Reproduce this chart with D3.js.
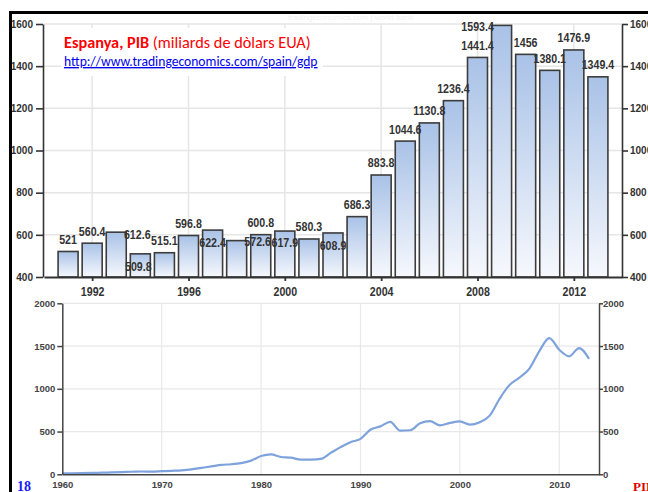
<!DOCTYPE html>
<html>
<head>
<meta charset="utf-8">
<script src="https://cdn.jsdelivr.net/npm/d3@7"></script>
<style>
  html, body { margin: 0; padding: 0; background: #fff; }
  svg { display: block; }
</style>
</head>
<body>
<svg id="chart" width="648" height="492"></svg>
<script>
// ---------------- DATA ----------------
const barYears = [1991,1992,1993,1994,1995,1996,1997,1998,1999,2000,2001,2002,2003,2004,2005,2006,2007,2008,2009,2010,2011,2012,2013];
const barValues = [521,560.4,612.6,509.8,515.1,596.8,622.4,572.6,600.8,617.9,580.3,608.9,686.3,883.8,1044.6,1130.8,1236.4,1441.4,1593.4,1456,1380.1,1476.9,1349.4];
const barLabels = ["521","560.4","612.6","509.8","515.1","596.8","622.4","572.6","600.8","617.9","580.3","608.9","686.3","883.8","1044.6","1130.8","1236.4","1441.4","1593.4","1456","1380.1","1476.9","1349.4"];
const topYTicks = [400,600,800,1000,1200,1400,1600];
const topXTicks = [1992,1996,2000,2004,2008,2012];

const lineYears = [1960,1961,1962,1963,1964,1965,1966,1967,1968,1969,1970,1971,1972,1973,1974,1975,1976,1977,1978,1979,1980,1981,1982,1983,1984,1985,1986,1987,1988,1989,1990,1991,1992,1993,1994,1995,1996,1997,1998,1999,2000,2001,2002,2003,2004,2005,2006,2007,2008,2009,2010,2011,2012,2013];
const lineValues = [11,12.1,13.8,16.1,19.4,21.9,25.5,29.7,32.7,31.8,36.4,41,46.6,57.3,75,92.3,110.5,117.4,131.2,160.1,213.5,232.1,202.6,195.4,170.9,172.4,180.3,250.6,317.8,376,413.7,521,560.4,612.6,509.8,515.1,596.8,622.4,572.6,600.8,617.9,580.3,608.9,686.3,883.8,1044.6,1130.8,1236.4,1441.4,1593.4,1456,1380.1,1476.9,1349.4];
const bottomYTicks = [0,500,1000,1500,2000];
const bottomXTicks = [1960,1970,1980,1990,2000,2010];

const titleBold = "Espanya, PIB";
const titleRest = " (miliards de dòlars EUA)";
const sourceUrl = "http://www.tradingeconomics.com/spain/gdp";
const pageNumber = "18";
const footerRight = "PIB";

// label collision nudges (layout only), [dx, dy] in px per bar
const labelNudge = [[0,0],[0,0],[21,14],[-2,25],[0,0],[0,0],[0,24],[21,13],[0,0],[0,23],[0,0],[0,25],[0,0],[0,0],[0,0],[0,0],[0,0],[0,0],[-24,13.5],[0,0],[0,0],[0,0],[0,0]];

// ---------------- DRAW ----------------
const svg = d3.select("#chart");
const sans = "'Liberation Sans',Arial,sans-serif";
const squeeze = 0.82; // condensed look for the top chart labels

const defs = svg.append("defs");
const grad = defs.append("linearGradient").attr("id","barGrad")
  .attr("x1",0).attr("y1",0).attr("x2",0).attr("y2",1);
grad.append("stop").attr("offset","0%").attr("stop-color","#a9c2e7");
grad.append("stop").attr("offset","100%").attr("stop-color","#f6f8fd");

// ---- top chart ----
const xTop = d3.scaleLinear().domain([1990, 2014]).range([44, 622]);
const yTop = d3.scaleLinear().domain([400, 1600]).range([277, 24]);
const barW = 20;

const gTop = svg.append("g");
gTop.append("g").selectAll("line").data(topYTicks.slice(1)).join("line")
  .attr("x1", xTop.range()[0]).attr("x2", xTop.range()[1])
  .attr("y1", d => yTop(d)).attr("y2", d => yTop(d))
  .attr("stroke", "#e6e6e6").attr("stroke-width", 1.5);
gTop.append("g").selectAll("line").data(topXTicks).join("line")
  .attr("x1", d => xTop(d)).attr("x2", d => xTop(d))
  .attr("y1", yTop.range()[1]).attr("y2", yTop.range()[0])
  .attr("stroke", "#e6e6e6").attr("stroke-width", 1.5);

// faint watermark at top
svg.append("text").attr("x", 288).attr("y", 20).text("tradingeconomics.com  |  world bank")
  .attr("font-family", sans).attr("font-size", 8).attr("fill", "#f0f0f0");

// white box behind title
gTop.append("rect").attr("x", 61).attr("y", 28).attr("width", 262).attr("height", 48).attr("fill", "#fff");

// bars
gTop.append("g").selectAll("rect").data(barValues).join("rect")
  .attr("x", (d,i) => xTop(barYears[i]) - barW/2)
  .attr("y", d => yTop(d))
  .attr("width", barW)
  .attr("height", d => yTop(400) - yTop(d))
  .attr("fill", "url(#barGrad)")
  .attr("stroke", "#3c3c3c").attr("stroke-width", 1.6);

// axes top
const fmt = d3.format("d");
const axL = gTop.append("g").attr("transform", `translate(${xTop.range()[0]-1},0)`)
  .call(d3.axisLeft(yTop).tickValues(topYTicks).tickFormat(fmt).tickSize(7).tickSizeOuter(0).tickPadding(3));
const axR = gTop.append("g").attr("transform", `translate(${xTop.range()[1]},0)`)
  .call(d3.axisRight(yTop).tickValues(topYTicks).tickFormat(fmt).tickSize(6).tickSizeOuter(0).tickPadding(2));
const axB = gTop.append("g").attr("transform", `translate(0,${yTop(400)})`)
  .call(d3.axisBottom(xTop).tickValues(topXTicks).tickFormat(fmt).tickSize(4).tickSizeOuter(0).tickPadding(5.5));
[axL, axR].forEach(a => {
  a.selectAll("path,line").attr("stroke", "#333").attr("stroke-width", 1.6);
  a.selectAll("text").attr("font-family", sans).attr("font-weight", "bold").attr("font-size", 10).attr("fill", "#333");
});
axB.selectAll("path,line").attr("stroke", "#333").attr("stroke-width", 1.8);
axB.selectAll("text").attr("font-family", sans).attr("font-weight", "bold").attr("font-size", 13).attr("fill", "#333")
  .attr("transform", `scale(${squeeze},1)`)
  .attr("x", function() { return 0; });

// bar labels
gTop.append("g").selectAll("text").data(barValues).join("text")
  .attr("transform", (d,i) => `translate(${xTop(barYears[i]) + labelNudge[i][0]},${yTop(d) - 7.5 + labelNudge[i][1]}) scale(${squeeze},1)`)
  .attr("text-anchor", "middle")
  .attr("font-family", sans).attr("font-weight", "bold").attr("font-size", 13)
  .attr("fill", "#333")
  .text((d,i) => barLabels[i]);

// title
const title = svg.append("text").attr("x", 64).attr("y", 48)
  .attr("font-family", "Carlito, Lato, 'Open Sans', sans-serif").attr("font-size", 16.3).attr("fill", "#ff0000");
title.append("tspan").attr("font-weight", "bold").text(titleBold);
title.append("tspan").text(titleRest);
svg.append("text").attr("x", 64).attr("y", 66)
  .attr("font-family", "Carlito, Lato, 'Open Sans', sans-serif").attr("font-size", 13.6).attr("fill", "#0000ee")
  .attr("text-decoration", "underline").text(sourceUrl);

// ---- bottom chart ----
const xBot = d3.scaleLinear().domain([1960, 2014]).range([62.3, 599]);
const yBot = d3.scaleLinear().domain([0, 2000]).range([474.3, 303.3]);
const gBot = svg.append("g");
gBot.append("g").selectAll("line").data(bottomYTicks.slice(1)).join("line")
  .attr("x1", xBot.range()[0]).attr("x2", xBot.range()[1])
  .attr("y1", d => yBot(d)).attr("y2", d => yBot(d))
  .attr("stroke", "#e8e8e8").attr("stroke-width", 1.2);
gBot.append("g").selectAll("line").data(bottomXTicks.slice(1)).join("line")
  .attr("x1", d => xBot(d)).attr("x2", d => xBot(d))
  .attr("y1", yBot.range()[1]).attr("y2", yBot.range()[0])
  .attr("stroke", "#e8e8e8").attr("stroke-width", 1.2);

const line = d3.line().x((d,i) => xBot(lineYears[i])).y(d => yBot(d)).curve(d3.curveMonotoneX);
gBot.append("path").datum(lineValues).attr("d", line)
  .attr("fill", "none").attr("stroke", "#7ea2db").attr("stroke-width", 2.2);

const bL = gBot.append("g").attr("transform", `translate(${xBot.range()[0]},0)`)
  .call(d3.axisLeft(yBot).tickValues(bottomYTicks).tickFormat(fmt).tickSize(5).tickSizeOuter(0).tickPadding(2));
const bR = gBot.append("g").attr("transform", `translate(${xBot.range()[1]},0)`)
  .call(d3.axisRight(yBot).tickValues(bottomYTicks).tickFormat(fmt).tickSize(4).tickSizeOuter(0).tickPadding(0));
const bB = gBot.append("g").attr("transform", `translate(0,${yBot(0)})`)
  .call(d3.axisBottom(xBot).tickValues(bottomXTicks).tickFormat(fmt).tickSize(0).tickSizeOuter(0).tickPadding(7));
[bL, bR, bB].forEach(a => {
  a.selectAll("path,line").attr("stroke", "#444").attr("stroke-width", 1.5);
  a.selectAll("text").attr("font-family", sans).attr("font-weight", "bold").attr("font-size", 9.5).attr("fill", "#444");
});

// footer
svg.append("text").attr("x", 17).attr("y", 491).text(pageNumber)
  .attr("font-family", "'Liberation Serif','Times New Roman',serif").attr("font-weight", "bold").attr("font-size", 14).attr("fill", "#1a1aff");
svg.append("text").attr("x", 633).attr("y", 491).text(footerRight)
  .attr("font-family", "'Liberation Serif','Times New Roman',serif").attr("font-weight", "bold").attr("font-size", 13).attr("fill", "#e00000");

// frame borders (slide edges)
svg.append("rect").attr("x", 9).attr("y", 11).attr("width", 648-9).attr("height", 3).attr("fill", "#000");
svg.append("rect").attr("x", 9).attr("y", 11).attr("width", 3).attr("height", 492-11).attr("fill", "#000");
</script>
</body>
</html>
